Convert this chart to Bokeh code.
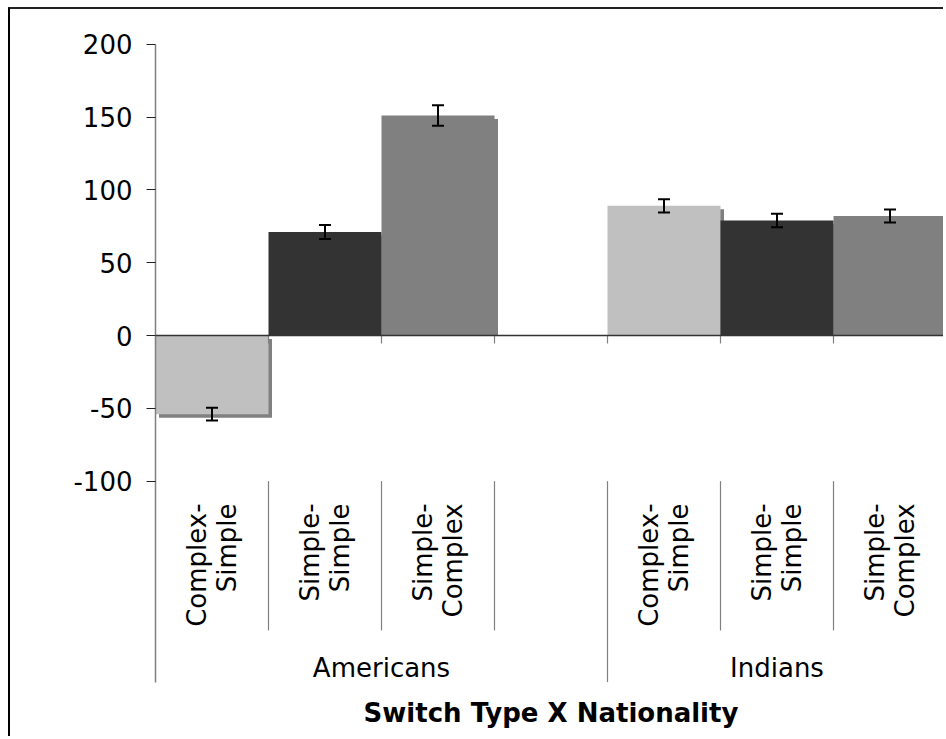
import math
from bokeh.plotting import figure
from bokeh.models import (Range1d, FixedTicker, Whisker, TeeHead, Span,
                          ColumnDataSource, PrintfTickFormatter)
from bokeh.core.properties import value
from bokeh.embed import file_html
from bokeh.resources import INLINE

# ---------------- data ----------------
nationalities = ["Americans", "Indians"]
switch_types = ["Complex-Simple", "Simple-Simple", "Simple-Complex"]
americans_rt = [-54, 71, 151]
americans_se = [4.4, 4.8, 7.0]
indians_rt = [89, 79, 82]
indians_se = [4.6, 4.6, 4.5]
slots_per_group = [4, 3]          # Americans group carries one empty slot
y_ticks = [-100, -50, 0, 50, 100, 150, 200]
bar_colors = ["#C0C0C0", "#333333", "#808080"]
x_title = "Switch Type X Nationality"

# ---------------- layout constants ----------------
FIG_W, FIG_H = 935, 729
LEFT = 145
SLOT_PX = 113.0
PX_PER_UNIT = 291.3 / 200.0
ZERO_FROM_TOP = 326.0
FONT = "DejaVu Sans"

frame_w = FIG_W - LEFT
y_end = ZERO_FROM_TOP / PX_PER_UNIT
y_start = y_end - FIG_H / PX_PER_UNIT

dx = 3.5 / SLOT_PX          # shadow offsets
dy = 3.5 / PX_PER_UNIT
tick_len = 8 / PX_PER_UNIT

label_top = -115.3
sub_sep_bottom = -202.5
grp_sep_bottom = -238.0
group_label_y = -228.5
title_y = -259.0

values_by_group = [americans_rt, indians_rt]
errors_by_group = [americans_se, indians_se]

xs, tops, colors, lows, highs, labels = [], [], [], [], [], []
start = 0
group_starts = []
for g, name in enumerate(nationalities):
    group_starts.append(start)
    for i, st in enumerate(switch_types):
        v = values_by_group[g][i]
        e = errors_by_group[g][i]
        xs.append(start + i + 0.5)
        tops.append(v)
        colors.append(bar_colors[i])
        lows.append(v - e)
        highs.append(v + e)
        labels.append(st.replace("-", "-\n", 1))
    start += slots_per_group[g]
total_slots = start

sh_x = [x + dx for x in xs]
sh_top = [(v - dy) if v > 0 else -dy for v in tops]
sh_bot = [0 if v > 0 else v - dy for v in tops]

src = ColumnDataSource(dict(x=xs, top=tops, color=colors, lower=lows,
                            upper=highs, label=labels, sx=sh_x,
                            stop=sh_top, sbot=sh_bot))

p = figure(width=FIG_W, height=FIG_H,
           x_range=Range1d(0, frame_w / SLOT_PX),
           y_range=Range1d(y_start, y_end),
           x_axis_location=None,
           min_border_left=LEFT, min_border_right=0,
           min_border_top=0, min_border_bottom=0,
           toolbar_location=None, output_backend="svg")
p.styles = {"margin-left": "8px", "margin-top": "7px",
            "border-left": "2px solid #000000",
            "border-top": "2px solid #222222"}
p.outline_line_color = None
p.background_fill_color = "white"
p.border_fill_color = "white"
p.grid.visible = False

# y axis
ya = p.yaxis[0]
ya.ticker = FixedTicker(ticks=y_ticks)
ya.formatter = PrintfTickFormatter(format="%d")
ya.bounds = (grp_sep_bottom, max(y_ticks))
ya.axis_line_color = "#808080"
ya.axis_line_width = 1.5
ya.major_tick_line_color = "#222222"
ya.major_tick_out = 9
ya.major_tick_in = 0
ya.minor_tick_line_color = None
ya.major_label_text_font = FONT
ya.major_label_text_font_size = "26px"
ya.major_label_text_color = "black"
ya.major_label_standoff = 14

# shadows then bars
p.vbar(x="sx", width=1.0, top="stop", bottom="sbot", source=src,
       fill_color="#808080", line_color=None)
p.vbar(x="x", width=1.0, top="top", bottom=0, source=src,
       fill_color="color", line_color=None)

# zero line and boundary ticks
p.add_layout(Span(location=0, dimension="width", line_color="#333333",
                  line_width=1.5))
bx = list(range(total_slots + 1))
p.segment(x0=bx, y0=[0] * len(bx), x1=bx, y1=[-tick_len] * len(bx),
          line_color="#808080", line_width=1.2)

# error bars
p.add_layout(Whisker(source=src, base="x", upper="upper", lower="lower",
                     line_color="black", line_width=2, level="overlay",
                     upper_head=TeeHead(size=12, line_width=2, line_color="black"),
                     lower_head=TeeHead(size=12, line_width=2, line_color="black")))

# category separators
sub_b, grp_b = [], []
for g, s in enumerate(group_starts):
    for k in range(1, slots_per_group[g]):
        sub_b.append(s + k)
    grp_b.append(s)
grp_b.append(total_slots)
grp_b = [b for b in grp_b if b > 0]
p.segment(x0=sub_b, y0=[min(y_ticks)] * len(sub_b), x1=sub_b,
          y1=[sub_sep_bottom] * len(sub_b), line_color="#808080", line_width=1.2)
p.segment(x0=grp_b, y0=[min(y_ticks)] * len(grp_b), x1=grp_b,
          y1=[grp_sep_bottom] * len(grp_b), line_color="#808080", line_width=1.2)

# category labels (rotated)
p.text(x="x", y=label_top, text="label", source=src, angle=math.pi / 2,
       text_align="right", text_baseline="middle", text_line_height=1.0,
       text_font=value(FONT), text_font_size="26px", text_color="black")

# group labels
gx = [s + n / 2.0 for s, n in zip(group_starts, slots_per_group)]
p.text(x=gx, y=[group_label_y] * len(gx), text=nationalities,
       text_align="center", text_baseline="alphabetic",
       text_font=value(FONT), text_font_size="26px", text_color="black")

# axis title
p.text(x=[total_slots / 2.0], y=[title_y], text=[x_title],
       text_align="center", text_baseline="alphabetic",
       text_font=value(FONT), text_font_size="26px",
       text_font_style="bold", text_color="black")

open("out.html", "w").write(file_html(p, INLINE))
